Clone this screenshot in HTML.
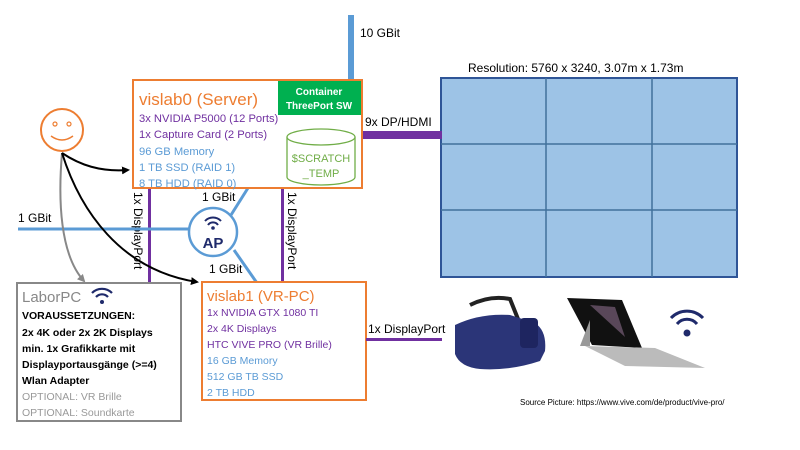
<!DOCTYPE html>
<html><head><meta charset="utf-8"><style>
body{margin:0;background:#fff;}
svg{display:block;font-family:"Liberation Sans",sans-serif;}
</style></head><body>
<svg width="800" height="450" viewBox="0 0 800 450" xmlns="http://www.w3.org/2000/svg">
<defs><marker id="ah" markerWidth="8" markerHeight="8" refX="6" refY="4" orient="auto" markerUnits="userSpaceOnUse"><path d="M0,0 L8,4 L0,8 Z" fill="#000"/></marker>
<marker id="ahg" markerWidth="8" markerHeight="8" refX="6" refY="4" orient="auto" markerUnits="userSpaceOnUse"><path d="M0,0 L8,4 L0,8 Z" fill="#888"/></marker></defs>
<rect x="348" y="15" width="6" height="66" fill="#5B9BD5"/>
<text x="360" y="37" font-size="12">10 GBit</text>
<text x="468" y="72" font-size="12">Resolution: 5760 x 3240, 3.07m x 1.73m</text>
<rect x="441" y="78" width="296" height="199" fill="#9DC3E6" stroke="#2F5597" stroke-width="2"/>
<g stroke="#41719C" stroke-width="1.5"><line x1="546" y1="78" x2="546" y2="277"/><line x1="652" y1="78" x2="652" y2="277"/><line x1="441" y1="144" x2="737" y2="144"/><line x1="441" y1="210" x2="737" y2="210"/></g>
<rect x="362" y="131" width="80" height="8" fill="#7030A0"/>
<text x="365" y="126" font-size="12">9x DP/HDMI</text>
<rect x="148" y="188" width="3" height="96" fill="#7030A0"/>
<rect x="281" y="188" width="3" height="96" fill="#7030A0"/>
<text transform="translate(134,192) rotate(90)" font-size="12">1x DisplayPort</text>
<text transform="translate(288,192) rotate(90)" font-size="12">1x DisplayPort</text>
<line x1="18" y1="229" x2="190" y2="229" stroke="#5B9BD5" stroke-width="3"/>
<text x="18" y="222" font-size="12">1 GBit</text>
<line x1="248" y1="188" x2="231" y2="215" stroke="#5B9BD5" stroke-width="3"/>
<line x1="234" y1="250" x2="257" y2="283" stroke="#5B9BD5" stroke-width="3"/>
<text x="202" y="201" font-size="12">1 GBit</text>
<text x="209" y="273" font-size="12">1 GBit</text>
<circle cx="213" cy="232" r="24" fill="#fff" stroke="#5B9BD5" stroke-width="2.5"/>
<g fill="none" stroke="#1F2A6B" stroke-width="2"><path d="M205,221 a11,11 0 0 1 16,0"/><path d="M208,225 a6,6 0 0 1 10,0"/></g>
<circle cx="213" cy="228" r="1.8" fill="#1F2A6B"/>
<text x="213" y="248" font-size="15" font-weight="bold" fill="#1F2A6B" text-anchor="middle">AP</text>
<circle cx="62" cy="130" r="21" fill="#fff" stroke="#ED7D31" stroke-width="2"/>
<circle cx="55" cy="124" r="2" fill="none" stroke="#ED7D31" stroke-width="1.2"/>
<circle cx="69" cy="124" r="2" fill="none" stroke="#ED7D31" stroke-width="1.2"/>
<path d="M51,136 q11,8 22,0" fill="none" stroke="#ED7D31" stroke-width="1.5"/>
<path d="M62,153 C58,200 60,255 84,281" fill="none" stroke="#888" stroke-width="2" marker-end="url(#ahg)"/>
<path d="M62,153 C80,165 100,172 128,170" fill="none" stroke="#000" stroke-width="2" marker-end="url(#ah)"/>
<path d="M62,153 C80,210 120,270 197,282" fill="none" stroke="#000" stroke-width="2" marker-end="url(#ah)"/>
<rect x="133" y="80" width="229" height="108" fill="#fff" stroke="#ED7D31" stroke-width="2"/>
<rect x="278" y="81" width="83" height="34" fill="#00B050"/>
<text x="319" y="95" font-size="10" font-weight="bold" fill="#fff" text-anchor="middle">Container</text>
<text x="319" y="109" font-size="10" font-weight="bold" fill="#fff" text-anchor="middle">ThreePort SW</text>
<text x="139" y="105" font-size="17" fill="#ED7D31">vislab0 (Server)</text>
<g font-size="11.2"><text x="139" y="122" fill="#7030A0">3x NVIDIA P5000 (12 Ports)</text>
<text x="139" y="138" fill="#7030A0">1x Capture Card (2 Ports)</text>
<text x="139" y="155" fill="#5B9BD5">96 GB Memory</text>
<text x="139" y="171" fill="#5B9BD5">1 TB SSD (RAID 1)</text>
<text x="139" y="187" fill="#5B9BD5">8 TB HDD (RAID 0)</text></g>
<path d="M287,137 v40 a34,8 0 0 0 68,0 v-40" fill="#fff" stroke="#70AD47" stroke-width="1.3"/>
<ellipse cx="321" cy="137" rx="34" ry="8" fill="#fff" stroke="#70AD47" stroke-width="1.3"/>
<text x="321" y="162" font-size="11" fill="#70AD47" text-anchor="middle">$SCRATCH</text>
<text x="321" y="177" font-size="11" fill="#70AD47" text-anchor="middle">_TEMP</text>
<rect x="202" y="282" width="164" height="118" fill="#fff" stroke="#ED7D31" stroke-width="2"/>
<text x="207" y="301" font-size="15" fill="#ED7D31">vislab1 (VR-PC)</text>
<g font-size="10.5"><text x="207" y="316" fill="#7030A0">1x NVIDIA GTX 1080 TI</text>
<text x="207" y="332" fill="#7030A0">2x 4K Displays</text>
<text x="207" y="348" fill="#7030A0">HTC VIVE PRO (VR Brille)</text>
<text x="207" y="364" fill="#5B9BD5">16 GB Memory</text>
<text x="207" y="380" fill="#5B9BD5">512 GB TB SSD</text>
<text x="207" y="396" fill="#5B9BD5">2 TB HDD</text></g>
<rect x="366" y="338" width="76" height="3" fill="#7030A0"/>
<text x="368" y="333" font-size="12">1x DisplayPort</text>
<rect x="17" y="283" width="164" height="138" fill="#fff" stroke="#888" stroke-width="2"/>
<text x="22" y="302" font-size="15" fill="#888">LaborPC</text>
<g fill="none" stroke="#1F2A6B" stroke-width="2.2"><path d="M92,293 a14,14 0 0 1 20,0"/><path d="M96,297 a8,8 0 0 1 12,0"/></g>
<circle cx="102" cy="302" r="2" fill="#1F2A6B"/>
<g font-size="10.5" font-weight="bold"><text x="22" y="319">VORAUSSETZUNGEN:</text>
<text x="22" y="336">2x 4K oder 2x 2K Displays</text>
<text x="22" y="352">min. 1x Grafikkarte mit</text>
<text x="22" y="368">Displayportausgänge  (&gt;=4)</text>
<text x="22" y="384">Wlan Adapter</text></g>
<g font-size="10.5" fill="#999"><text x="22" y="400">OPTIONAL: VR Brille</text><text x="22" y="416">OPTIONAL: Soundkarte</text></g>
<!-- headset -->
<path d="M470,305 q20,-10 40,-6 l8,20" fill="none" stroke="#222" stroke-width="4"/>
<path d="M455,325 q25,-12 55,-10 l25,8 q12,8 10,28 l-5,10 q-30,10 -60,8 q-20,-2 -25,-15 z" fill="#2B3578"/>
<rect x="520" y="318" width="18" height="30" rx="4" fill="#1E2560"/>
<!-- laptop -->
<path d="M567,298 l55,2 l20,48 l-50,-3 z" fill="#111"/>
<path d="M590,305 l25,2 l10,30 z" fill="#8a6d8a" opacity="0.6"/>
<path d="M585,346 l70,2 l50,20 l-80,-2 z" fill="#bbb"/>
<path d="M590,320 l-10,26 l10,0 z" fill="#999"/>
<g fill="none" stroke="#1F2A6B" stroke-width="3"><path d="M671,318 a22,22 0 0 1 32,0"/><path d="M677,324 a13,13 0 0 1 20,0"/></g>
<circle cx="687" cy="333" r="3.5" fill="#1F2A6B"/>
<text x="520" y="405" font-size="8">Source Picture: https://www.vive.com/de/product/vive-pro/</text>
</svg>
</body></html>
